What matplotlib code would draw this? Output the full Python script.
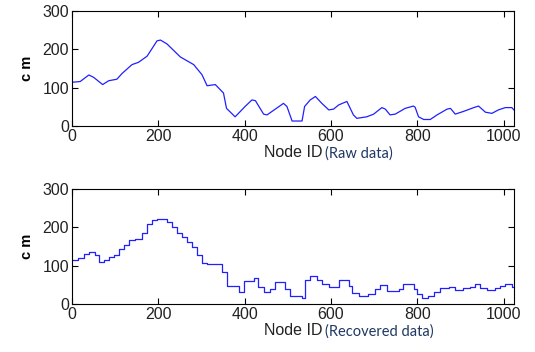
import matplotlib

matplotlib.use("Agg")
import matplotlib.pyplot as plt

# raw curve (node id, height in cm)
raw_x = [0, 19, 39, 50, 71, 85, 104, 116, 139, 154, 174, 197, 205, 220, 251,
         282, 301, 313, 332, 351, 358, 378, 402, 417, 425, 444, 452, 490, 498,
         510, 533, 539, 552, 564, 579, 595, 606, 618, 637, 652, 660, 683, 699,
         718, 726, 737, 749, 772, 791, 795, 803, 815, 830, 846, 869, 877, 888,
         907, 931, 942, 958, 973, 988, 1004, 1019, 1024]
raw_y = [114, 116, 133, 127, 108, 118, 122, 137, 160, 166, 182, 222, 224, 214,
         180, 160, 134, 105, 108, 86, 46, 24, 52, 68, 66, 31, 29, 59, 51,
         13, 13, 51, 68, 77, 59, 42, 44, 55, 64, 29, 20, 24, 31,
         48, 44, 29, 31, 46, 52, 49, 24, 17, 17, 29, 44, 46, 31,
         38, 48, 52, 36, 33, 42, 48, 48, 42]

# recovered data: block start and block level
rec_x = [0, 15, 27, 39, 54, 63, 73, 85, 97, 108, 121, 131, 147, 162, 174,
         185, 197, 220, 232, 243, 255, 266, 278, 290, 301, 313, 347, 359, 386,
         398, 421, 432, 444, 459, 471, 494, 506, 533, 541, 552, 568, 579, 595,
         618, 641, 649, 664, 687, 703, 714, 730, 757, 768, 792, 799, 811, 826,
         838, 853, 873, 888, 907, 923, 934, 946, 961, 981, 992, 1004, 1019, 1024]
rec_y = [114, 121, 131, 135, 129, 111, 116, 122, 129, 143, 155, 166, 171, 186,
         210, 219, 223, 214, 201, 186, 175, 162, 149, 129, 108, 105, 83, 48,
         32, 61, 67, 44, 32, 39, 57, 39, 20, 17, 64, 73, 64, 52, 44, 64, 48,
         29, 20, 26, 39, 50, 35, 39, 52, 39, 26, 15, 20, 31, 41, 45, 38, 41,
         44, 52, 41, 38, 41, 48, 52, 44, 44]

x_ticks = [0, 200, 400, 600, 800, 1000]
y_ticks = [0, 100, 200, 300]
notes = ["(Raw data)", "(Recovered data)"]

plt.rcParams["font.family"] = ["Liberation Sans", "DejaVu Sans"]

fig = plt.figure(figsize=(5.35, 3.52), dpi=100)
ax_top = fig.add_axes([0.1346, 0.642, 0.826, 0.327])
ax_bot = fig.add_axes([0.1346, 0.136, 0.826, 0.327])

line_color = "#2020ff"
ax_top.plot(raw_x, raw_y, color=line_color, lw=0.9)
ax_bot.plot(rec_x, rec_y, color=line_color, lw=0.9, drawstyle="steps-post")

for ax, note in zip([ax_top, ax_bot], notes):
    ax.set_xlim(0, 1024)
    ax.set_ylim(0, 300)
    ax.set_xticks(x_ticks)
    ax.set_yticks(y_ticks)
    ax.tick_params(direction="in", top=True, right=True, length=4, width=0.8,
                   labelsize=11.5, labelcolor="#222222", pad=2)
    for side in ax.spines.values():
        side.set_linewidth(0.8)
    ax.set_ylabel("c m", fontsize=10.5, fontweight="bold", labelpad=6)
    ax.set_xlabel("Node ID", fontsize=11.5, color="#222222", labelpad=1)
    ax.annotate(note, xy=(1, 0.45), xycoords=ax.xaxis.label,
                xytext=(2, 0), textcoords="offset points",
                fontsize=10.5, family=["Lato", "DejaVu Sans"],
                color="#1f3864", va="center", ha="left")

fig.savefig("out.png", dpi=100)
